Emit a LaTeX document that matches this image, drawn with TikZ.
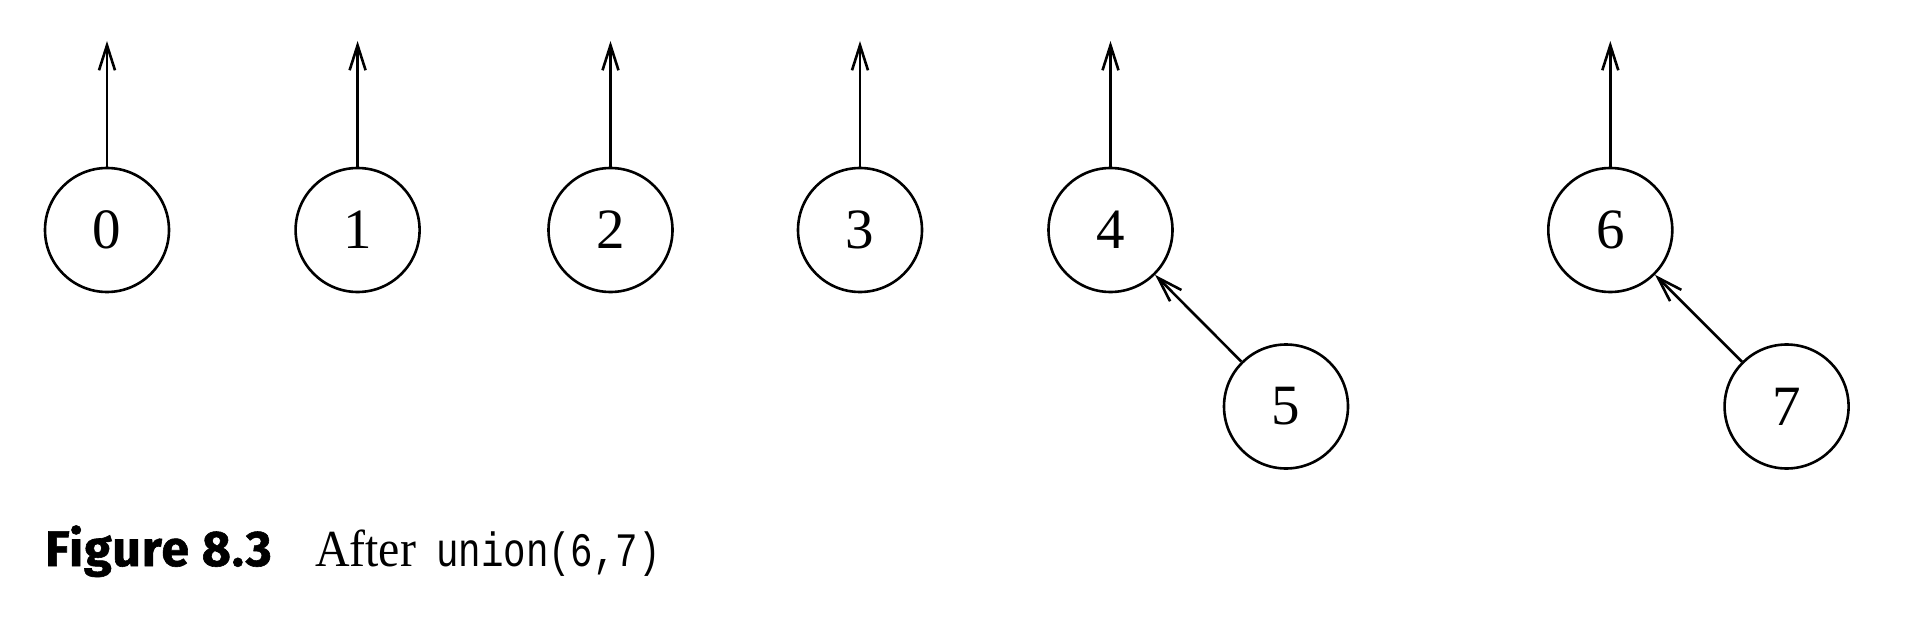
\documentclass[tikz,border=0pt]{standalone}
\usepackage{fontspec}
\setmainfont{Liberation Serif}
\newfontfamily\capfont[FakeBold=1.2,LetterSpace=2]{Fira Sans Bold}
\newfontfamily\afterfont[FakeStretch=0.92]{Liberation Serif}
\newfontfamily\codefont[FakeStretch=0.78]{Liberation Mono}
\usetikzlibrary{arrows.meta}
\begin{document}
\begin{tikzpicture}[x=1pt,y=-1pt,
  elem/.style={circle,draw,line width=2.6pt,minimum size=124pt,inner sep=0pt,font=\fontsize{57}{57}\selectfont},
  link/.style={line width=2.6pt,-{Straight Barb[length=25pt,width=16pt,line width=2.6pt]}},
  caption/.style={anchor=base west,inner sep=0pt}]
\useasboundingbox (0,0) rectangle (1907,631);
\node[elem] (n0) at (107,230) {0};
\node[elem] (n1) at (357.6,230) {1};
\node[elem] (n2) at (610.5,230) {2};
\node[elem] (n3) at (860,230) {3};
\node[elem] (n4) at (1110.5,230) {4};
\node[elem] (n6) at (1610.3,230) {6};
\node[elem] (n5) at (1286,406.5) {5};
\node[elem] (n7) at (1786.6,406.5) {7};
\foreach \n/\x in {n0/107,n1/357.6,n2/610.5,n3/860,n4/1110.5,n6/1610.3}{
  \coordinate (\n t) at (\x,41);
  \draw[link] (\n.north) -- (\n t);
}
\draw[link] (n5) -- (n4);
\draw[link] (n7) -- (n6);
\node[caption] (cap) at (45,566) {\capfont\fontsize{50}{50}\selectfont Figure 8.3};
\node[caption] (txt) at (315,566) {\afterfont\fontsize{52}{52}\selectfont After};
\node[caption] (code) at (436,566) {\codefont\fontsize{48}{48}\selectfont union(6,7)};
\end{tikzpicture}
\end{document}
